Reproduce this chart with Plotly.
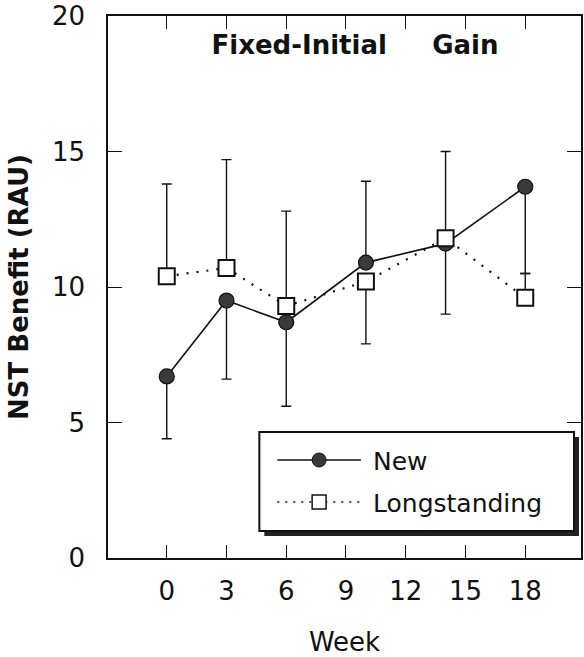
import plotly.graph_objects as go

# ---- data ----
weeks = [0, 3, 6, 10, 14, 18]
new_mean = [6.7, 9.5, 8.7, 10.9, 11.6, 13.7]
new_err_up = [0, 0, 0, 3.0, 0, 0]
new_err_down = [2.3, 2.9, 3.1, 0, 2.6, 3.2]
long_mean = [10.4, 10.7, 9.3, 10.2, 11.8, 9.6]
long_err_up = [3.4, 4.0, 3.5, 0, 3.2, 0.9]
long_err_down = [0, 0, 0, 2.3, 0, 0]
x_ticks = [0, 3, 6, 9, 12, 15, 18]
y_ticks = [0, 5, 10, 15, 20]
series_names = ["New", "Longstanding"]
title_text = "Fixed-Initial\u00a0\u00a0\u00a0\u00a0\u00a0Gain"

# ---- layout geometry ----
W, H = 584, 657
L, R, T, B = 108, 1, 16, 99
pw, ph = W - L - R, H - T - B


def px(x):
    return (x - L) / pw


def py(y):
    return (H - B - y) / ph


FONT = "DejaVu Sans"
INK = "#111111"

fig = go.Figure()

fig.add_trace(go.Scatter(
    x=weeks, y=new_mean, name=series_names[0], mode="lines+markers",
    line=dict(color=INK, width=1.6),
    marker=dict(symbol="circle", size=15, color="#3a3a3a",
                line=dict(color=INK, width=1.2)),
    error_y=dict(type="data", symmetric=False, array=new_err_up,
                 arrayminus=new_err_down, color=INK, thickness=1.4, width=5),
    showlegend=False,
))
fig.add_trace(go.Scatter(
    x=weeks, y=long_mean, name=series_names[1], mode="lines+markers",
    line=dict(color=INK, width=2.2, dash="2px,8px"),
    marker=dict(symbol="square", size=16, color="white",
                line=dict(color=INK, width=2)),
    error_y=dict(type="data", symmetric=False, array=long_err_up,
                 arrayminus=long_err_down, color=INK, thickness=1.4, width=5),
    showlegend=False,
))

# ---- hand-drawn style legend box ----
shapes = []
# shadow
shapes.append(dict(type="rect", xref="paper", yref="paper",
                   x0=px(265), x1=px(581), y0=py(536), y1=py(437),
                   fillcolor="#222222", line=dict(width=0), layer="above"))
# box
shapes.append(dict(type="rect", xref="paper", yref="paper",
                   x0=px(260), x1=px(576), y0=py(531), y1=py(432),
                   fillcolor="white", line=dict(color=INK, width=2), layer="above"))
# New sample
shapes.append(dict(type="line", xref="paper", yref="paper",
                   x0=px(278), x1=px(362), y0=py(460), y1=py(460),
                   line=dict(color=INK, width=1.6), layer="above"))
shapes.append(dict(type="circle", xref="paper", yref="paper",
                   x0=px(313), x1=px(327), y0=py(467), y1=py(453),
                   fillcolor="#3a3a3a", line=dict(color=INK, width=1), layer="above"))
# Longstanding sample
shapes.append(dict(type="line", xref="paper", yref="paper",
                   x0=px(278), x1=px(362), y0=py(502), y1=py(502),
                   line=dict(color=INK, width=1.6, dash="2px,6px"), layer="above"))
shapes.append(dict(type="rect", xref="paper", yref="paper",
                   x0=px(313), x1=px(327), y0=py(509), y1=py(495),
                   fillcolor="white", line=dict(color=INK, width=1.5), layer="above"))

annotations = [
    dict(text=series_names[0], xref="paper", yref="paper", x=px(372), y=py(461),
         xanchor="left", yanchor="middle", showarrow=False,
         font=dict(family=FONT, size=25, color=INK)),
    dict(text=series_names[1], xref="paper", yref="paper", x=px(372), y=py(503),
         xanchor="left", yanchor="middle", showarrow=False,
         font=dict(family=FONT, size=25, color=INK)),
]

fig.update_layout(
    width=W, height=H, autosize=False,
    margin=dict(l=L, r=R, t=T, b=B, pad=0),
    paper_bgcolor="white", plot_bgcolor="white",
    font=dict(family=FONT, color=INK),
    title=dict(text=title_text, x=355 / W, y=1 - 45 / H, xref="container",
               yref="container", xanchor="center", yanchor="middle",
               font=dict(family=FONT, size=26, color=INK, weight="bold")),
    shapes=shapes, annotations=annotations,
    xaxis=dict(range=[(L - 167) / 20, (W - R - 167) / 20],
               tickvals=x_ticks, ticktext=[str(v) for v in x_ticks],
               ticks="inside", ticklen=13, tickwidth=1.4, tickcolor=INK,
               showline=True, linecolor=INK, linewidth=1.6, mirror="ticks",
               showgrid=False, zeroline=False,
               tickfont=dict(family=FONT, size=26, color=INK),
               ticklabelstandoff=9,
               title=dict(text="Week", standoff=30,
                          font=dict(family=FONT, size=26, color=INK))),
    yaxis=dict(range=[0, 20], tickvals=y_ticks, ticktext=[str(v) for v in y_ticks],
               ticks="inside", ticklen=14, tickwidth=1.4, tickcolor=INK,
               showline=True, linecolor=INK, linewidth=1.6, mirror="ticks",
               showgrid=False, zeroline=False,
               tickfont=dict(family=FONT, size=26, color=INK),
               ticklabelstandoff=16,
               title=dict(text="NST Benefit (RAU)", standoff=16,
                          font=dict(family=FONT, size=26, color=INK, weight="bold"))),
)

fig.write_html("out.html")
